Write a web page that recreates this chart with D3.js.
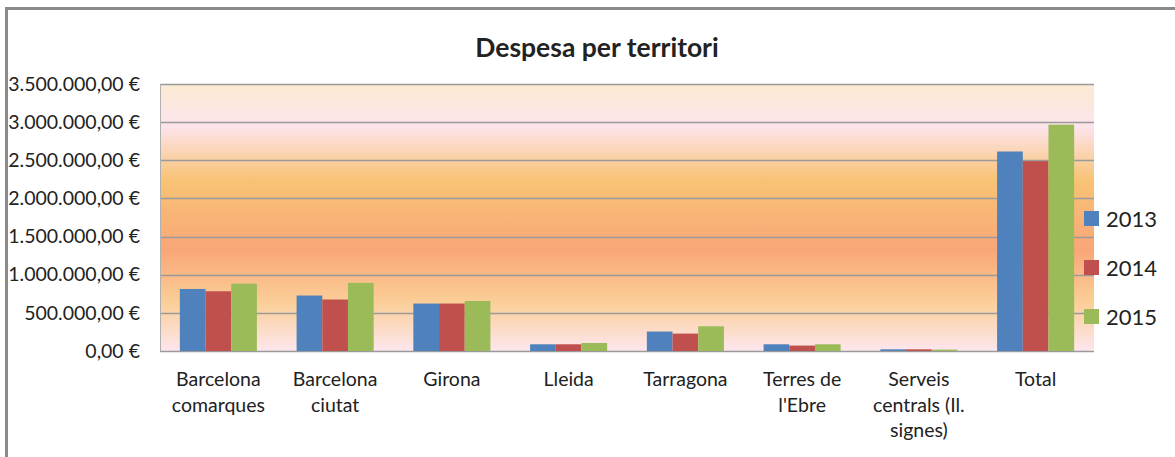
<!DOCTYPE html>
<html>
<head>
<meta charset="utf-8">
<script src="https://cdn.jsdelivr.net/npm/d3@7"></script>
<style>
  body { margin: 0; background: #fff; }
  svg text { font-family: Lato, "Open Sans", sans-serif; fill: #222; }
</style>
</head>
<body>
<svg id="mysvg" width="1175" height="457"></svg>
<script>
// Data
const categories = ["Barcelona comarques", "Barcelona ciutat", "Girona", "Lleida", "Tarragona", "Terres de l'Ebre", "Serveis centrals (Il. signes)", "Total"];
const labelLines = [["Barcelona", "comarques"], ["Barcelona", "ciutat"], ["Girona"], ["Lleida"], ["Tarragona"], ["Terres de", "l'Ebre"], ["Serveis", "centrals (Il.", "signes)"], ["Total"]];
const years = ["2013", "2014", "2015"];
const values2013 = [813000, 727000, 622000, 88000, 255000, 88000, 22000, 2615000];
const values2014 = [783000, 675000, 622000, 88000, 228000, 71000, 22000, 2489000];
const values2015 = [883000, 893000, 656000, 105000, 324000, 88000, 18000, 2967000];
const yTicks = [0, 500000, 1000000, 1500000, 2000000, 2500000, 3000000, 3500000];
const colors = ["#4f81bd", "#c0504d", "#9bbb59"];

const series = [values2013, values2014, values2015];

const svg = d3.select("#mysvg");

// plot area
const plot = { left: 160, right: 1094, top: 84, bottom: 351 };

// outer frame (top + left visible)
svg.append("path")
  .attr("d", "M6.5,457 L6.5,8.5 L1175,8.5")
  .attr("fill", "none")
  .attr("stroke", "#8a8a8a")
  .attr("stroke-width", 3);

// background gradient
const defs = svg.append("defs");
const grad = defs.append("linearGradient")
  .attr("id", "bg")
  .attr("x1", 0).attr("y1", 0).attr("x2", 0).attr("y2", 1);
[[0, "#fbead2"], [0.16, "#fde4ec"], [0.36, "#f8c375"], [0.62, "#f9a677"], [0.82, "#fbcf98"], [1, "#fde6ee"]]
  .forEach(s => grad.append("stop").attr("offset", s[0]).attr("stop-color", s[1]));

svg.append("rect")
  .attr("x", plot.left).attr("y", plot.top)
  .attr("width", plot.right - plot.left).attr("height", plot.bottom - plot.top)
  .attr("fill", "url(#bg)");

// scales
const x_Scale = d3.scaleBand()
  .domain(categories)
  .range([plot.left, plot.right])
  .paddingInner(0.34)
  .paddingOuter(0.17);

const x_Sub = d3.scaleBand()
  .domain(years)
  .range([0, x_Scale.bandwidth()]);

const y_Scale = d3.scaleLinear()
  .domain([0, 3500000])
  .range([plot.bottom, plot.top]);

// grid lines
svg.selectAll(".grid")
  .data(yTicks)
  .join("line")
  .attr("class", "grid")
  .attr("x1", plot.left).attr("x2", plot.right)
  .attr("y1", d => Math.round(y_Scale(d)) + 0.5)
  .attr("y2", d => Math.round(y_Scale(d)) + 0.5)
  .attr("stroke", "#9a9a9a")
  .attr("stroke-width", 1.5);

// plot left border
svg.append("line")
  .attr("x1", plot.left + 0.5).attr("x2", plot.left + 0.5)
  .attr("y1", plot.top).attr("y2", plot.bottom)
  .attr("stroke", "#b0b0b0");

// y axis labels
const fmt = d3.formatLocale({ decimal: ",", thousands: ".", grouping: [3], currency: ["", " €"] }).format("$,.2f");
const yAxis = svg.append("g")
  .attr("transform", `translate(${plot.left},0)`)
  .call(d3.axisLeft(y_Scale).tickValues(yTicks).tickSize(0).tickPadding(20).tickFormat(fmt));
yAxis.select(".domain").remove();
yAxis.selectAll("text")
  .style("font-size", "19.5px")
  .style("font-family", "Lato, sans-serif")
  .attr("fill", "#222");

// bars
series.forEach((vals, si) => {
  svg.selectAll(".bar" + si)
    .data(vals)
    .join("rect")
    .attr("class", "bar" + si)
    .attr("x", (d, i) => x_Scale(categories[i]) + x_Sub(years[si]))
    .attr("y", d => y_Scale(d))
    .attr("width", x_Sub.bandwidth())
    .attr("height", d => plot.bottom - y_Scale(d))
    .attr("fill", colors[si]);
});

// x labels
const xl = svg.selectAll(".xlabel")
  .data(categories)
  .join("text")
  .attr("class", "xlabel")
  .attr("text-anchor", "middle")
  .style("font-size", "19.5px")
  .attr("x", d => x_Scale(d) + x_Scale.bandwidth() / 2)
  .attr("y", 386);
xl.each(function(d, i) {
  d3.select(this).selectAll("tspan")
    .data(labelLines[i])
    .join("tspan")
    .attr("x", x_Scale(d) + x_Scale.bandwidth() / 2)
    .attr("dy", (t, j) => j === 0 ? 0 : 25.5)
    .text(t => t);
});

// title
svg.append("text")
  .attr("x", 597).attr("y", 57)
  .attr("text-anchor", "middle")
  .style("font-size", "26.5px")
  .style("font-weight", "bold")
  .text("Despesa per territori");

// legend
const legend = svg.selectAll(".legend")
  .data(years)
  .join("g")
  .attr("class", "legend")
  .attr("transform", (d, i) => `translate(1084,${211 + i * 49})`);
legend.append("rect")
  .attr("width", 15).attr("height", 15)
  .attr("fill", (d, i) => colors[i]);
legend.append("text")
  .attr("x", 22).attr("y", 15.5)
  .style("font-size", "22px")
  .text(d => d);
</script>
</body>
</html>
